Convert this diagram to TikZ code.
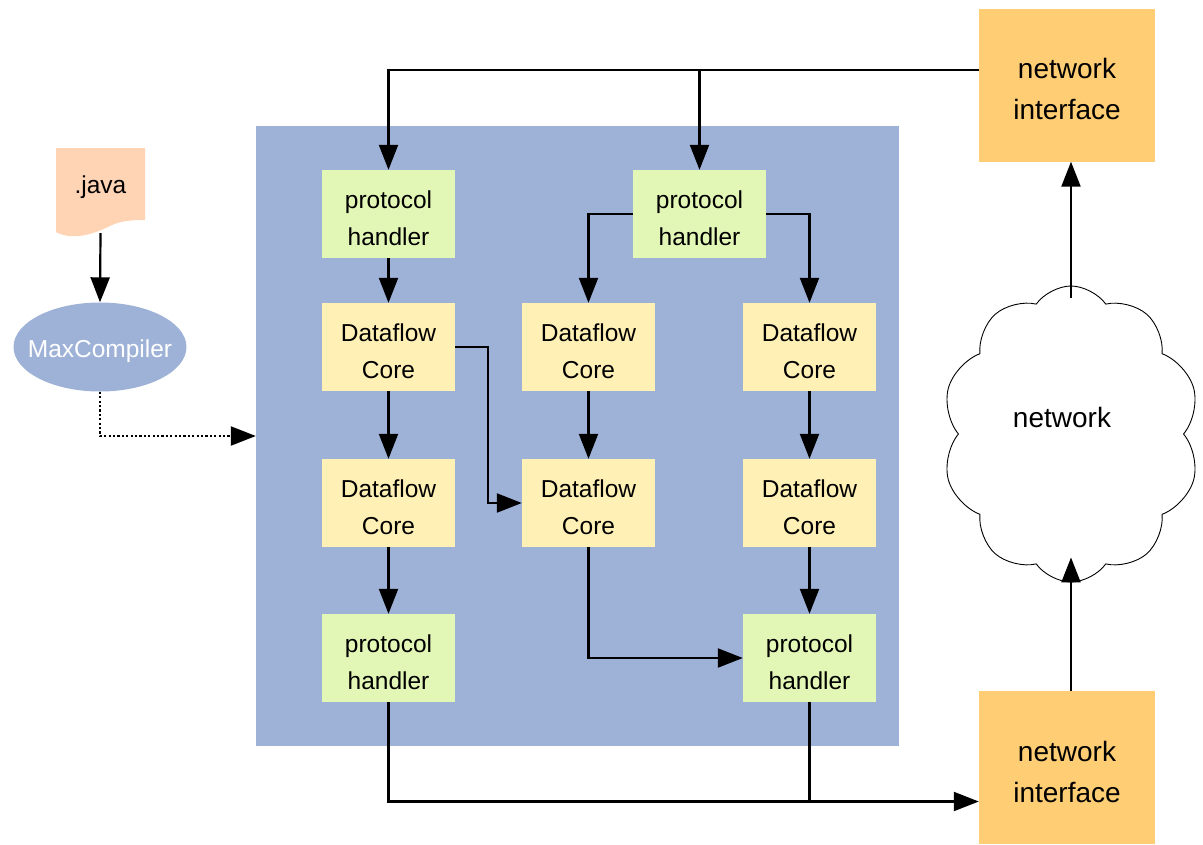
\documentclass[tikz,border=0pt]{standalone}
\usepackage{fontspec}
\setmainfont{Liberation Sans}
\usetikzlibrary{arrows.meta,shapes.symbols,shapes.geometric}
\definecolor{bluebg}{RGB}{158,178,216}
\definecolor{phgreen}{RGB}{226,247,182}
\definecolor{dcyellow}{RGB}{255,240,181}
\definecolor{niorange}{RGB}{255,205,115}
\definecolor{peach}{RGB}{255,212,181}
\newcommand\myshimA{\rule{0pt}{26pt}}
\newcommand\myshimB{\rule{0pt}{28.5pt}}
\begin{document}
\begin{tikzpicture}[x=1pt,y=-1pt,
  lbl/.style={font=\fontsize{24.5}{37}\selectfont, align=center},
  box/.style={lbl, minimum width=133pt, minimum height=88pt, inner sep=0pt},
  phbox/.style={box, fill=phgreen},
  dcbox/.style={box, fill=dcyellow},
  nibox/.style={font=\fontsize{28}{41}\selectfont, align=center, fill=niorange,
    minimum width=176pt, minimum height=153pt, inner sep=0pt},
  conn/.style={line width=2.2pt},
  arr/.style={conn, -{Triangle[length=25pt,width=19pt]}},
  dotarr/.style={arr, dash pattern=on 2.2pt off 2.2pt}]
\useasboundingbox (0,0) rectangle (1203,844);
% background region
\node[fill=bluebg, minimum width=643pt, minimum height=620pt, inner sep=0pt] (bg) at (577.5,436) {};
% .java document
\fill[peach] (56,232) .. controls (70,240) and (90,236) .. (110,226)
  .. controls (120,221) and (130,220) .. (145,220) -- (145,148) -- (56,148) -- cycle;
\node[minimum width=89pt, minimum height=88pt, inner sep=0pt] (java) at (100.5,189) {};
\node[lbl] (javat) at (100.5,187) {.java};
% MaxCompiler
\node[ellipse, fill=bluebg, minimum height=89pt, inner xsep=-11pt, inner ysep=0pt, lbl, text=white] (mc) at (100,347) {\myshimA MaxCompiler};
% boxes
\node[phbox] (ph1) at (388.5,214) {\myshimA protocol\\handler};
\node[phbox] (ph2) at (699.5,214) {\myshimA protocol\\handler};
\node[phbox] (ph3) at (388.5,658) {\myshimA protocol\\handler};
\node[phbox] (ph4) at (809.5,658) {\myshimA protocol\\handler};
\node[dcbox] (dc1) at (388.5,347) {\myshimA Dataflow\\Core};
\node[dcbox] (dc2) at (388.5,503) {\myshimA Dataflow\\Core};
\node[dcbox] (dc3) at (588.5,347) {\myshimA Dataflow\\Core};
\node[dcbox] (dc4) at (588.5,503) {\myshimA Dataflow\\Core};
\node[dcbox] (dc5) at (809.5,347) {\myshimA Dataflow\\Core};
\node[dcbox] (dc6) at (809.5,503) {\myshimA Dataflow\\Core};
% network interfaces
\node[nibox] (nit) at (1067,85) {\myshimB network\\interface};
\node[nibox] (nib) at (1067,767.5) {\myshimB network\\interface};
% cloud
\node[cloud, draw, line width=0.9pt, cloud puffs=10, cloud puff arc=110, aspect=0.87,
  minimum width=258pt, minimum height=296pt, inner sep=0pt,
  font=\fontsize{28}{34}\selectfont] (cloud) at (1071,434) {network\rule[-34pt]{0pt}{0pt}\hspace*{18pt}};
% connectors
\coordinate (tl) at ([yshift=15pt]nit.west);
\draw[arr] (tl) -| (ph1.north);
\draw[arr] (ph2.north |- tl) -- (ph2.north);
\draw[arr] (ph2.west) -| (dc3.north);
\draw[arr] (ph2.east) -| (dc5.north);
\draw[arr] (ph1) -- (dc1);
\draw[arr] (dc1) -- (dc2);
\draw[arr] (dc2) -- (ph3);
\draw[arr] (dc3) -- (dc4);
\draw[arr] (dc5) -- (dc6);
\draw[arr] (dc6) -- (ph4);
\draw[arr] (dc1.east) -- ++(33,0) |- (dc4.west);
\draw[arr] (dc4.south) |- (ph4.west);
\coordinate (bl) at ([yshift=-34pt]nib.west);
\draw[arr] (ph3.south) |- (bl);
\draw[conn] (ph4.south) -- (ph4.south |- bl);
\draw[arr] (cloud.south |- nib.north) -- ([yshift=25pt]cloud.south);
\draw[arr] ([yshift=-12pt]cloud.north) -- (cloud.north |- nit.south);
\draw[arr] (java.south) -- (mc.north);
\draw[dotarr] (mc.south) |- (bg.west);
\end{tikzpicture}
\end{document}
